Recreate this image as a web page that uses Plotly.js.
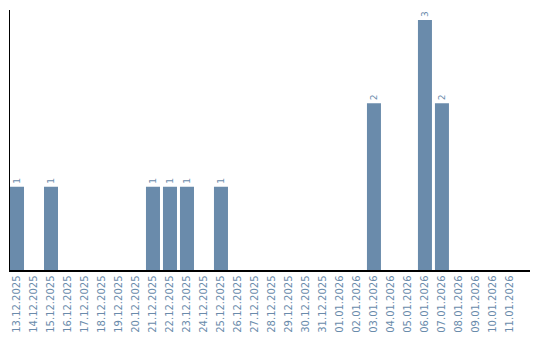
<!DOCTYPE html>
<html>
<head>
<meta charset="utf-8">
<script src="https://cdn.plot.ly/plotly-3.0.1.min.js"></script>
<style>html,body{margin:0;padding:0;background:#fff;}#chart{width:540px;height:340px;}</style>
</head>
<body>
<div id="chart"></div>
<script>
const dates = ["13.12.2025","14.12.2025","15.12.2025","16.12.2025","17.12.2025","18.12.2025","19.12.2025","20.12.2025","21.12.2025","22.12.2025","23.12.2025","24.12.2025","25.12.2025","26.12.2025","27.12.2025","28.12.2025","29.12.2025","30.12.2025","31.12.2025","01.01.2026","02.01.2026","03.01.2026","04.01.2026","05.01.2026","06.01.2026","07.01.2026","08.01.2026","09.01.2026","10.01.2026","11.01.2026"];
const counts = [1,0,1,0,0,0,0,0,1,1,1,0,1,0,0,0,0,0,0,0,0,2,0,0,3,2,0,0,0,0];
const labels = counts.map(v => v > 0 ? String(v) : "");
const barColor = "#6a8bab";

Plotly.newPlot("chart", [{
  type: "bar",
  x: dates,
  y: counts,
  text: labels,
  textposition: "outside",
  textangle: -90,
  cliponaxis: false,
  textfont: {family: "DejaVu Sans", size: 9, color: barColor},
  marker: {color: barColor},
  hoverinfo: "none"
}], {
  width: 540, height: 340,
  margin: {l: 10, r: 10, t: 10, b: 70},
  paper_bgcolor: "#fff", plot_bgcolor: "#fff",
  bargap: 0.176,
  showlegend: false,
  font: {family: "DejaVu Sans", size: 10, color: barColor},
  xaxis: {
    type: "category",
    range: [-0.412, 30.18],
    tickangle: -90,
    showgrid: false, zeroline: false,
    showline: true, linecolor: "#000", linewidth: 1.5,
    ticks: "", ticklen: 0,
    tickfont: {family: "DejaVu Sans", size: 10, color: barColor},
    fixedrange: true
  },
  yaxis: {
    range: [0, 3.12],
    showgrid: false, zeroline: false,
    showline: true, linecolor: "#000", linewidth: 1.5,
    showticklabels: false, ticks: "",
    fixedrange: true
  }
}, {displayModeBar: false, staticPlot: true});
</script>
</body>
</html>
